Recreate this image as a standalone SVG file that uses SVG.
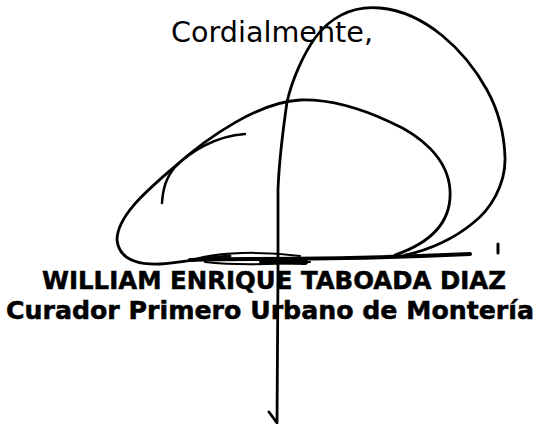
<svg xmlns="http://www.w3.org/2000/svg" width="538" height="424" viewBox="0 0 538 424">
<style>
.ink{fill:none;stroke:#000;stroke-linecap:round;stroke-linejoin:round}
.t{fill:#000;font-family:"DejaVu Sans","Liberation Sans",sans-serif}
.b{font-weight:bold;stroke:#000;stroke-width:0.5}
</style>
<rect width="538" height="424" fill="#fff"/>
<g id="text">
<text class="t" x="171" y="42" font-size="28" textLength="202" lengthAdjust="spacingAndGlyphs">Cordialmente,</text>
<text class="t b" x="42" y="289" font-size="24" textLength="464" lengthAdjust="spacingAndGlyphs">WILLIAM ENRIQUE TABOADA DIAZ</text>
<text class="t b" x="6" y="319" font-size="24" textLength="528" lengthAdjust="spacingAndGlyphs">Curador Primero Urbano de Montería</text>
</g>
<g id="signature">
<path class="ink" stroke-width="2.8" d="M405 255 C430 250,455 238,473 223 C490 210,506 185,505 157 C504 130,497 108,487 90 C465 50,425 12,380 8 C350 5,328 20,315 38 C303 55,292 80,287 102 C283 130,279 160,278 190 L278 270 L277 423 L269 412"/>
<path class="ink" stroke-width="2.8" d="M395 255 C430 243,452 222,450 190 C448 158,420 135,390 122 C360 108,330 99,300 100 C260 102,210 135,173 168 C150 188,117 215,117 240 C119 258,135 265,160 264 C180 263,200 258,230 256"/>
<path class="ink" stroke-width="2.5" d="M162 203 C163 188,166 178,175 167 C190 152,215 136,245 134"/>
<path class="ink" stroke-width="4" d="M190 260 C230 257,300 262,470 254"/>
<path class="ink" stroke-width="2" d="M195 259 C220 252,260 251,300 256"/>
<path class="ink" stroke-width="2" d="M205 262 C240 266,280 264,310 262"/>
<path class="ink" stroke-width="6" d="M262 261 L305 262"/>
<path class="ink" stroke-width="3" d="M498 244 L498 253"/>
</g>
</svg>
